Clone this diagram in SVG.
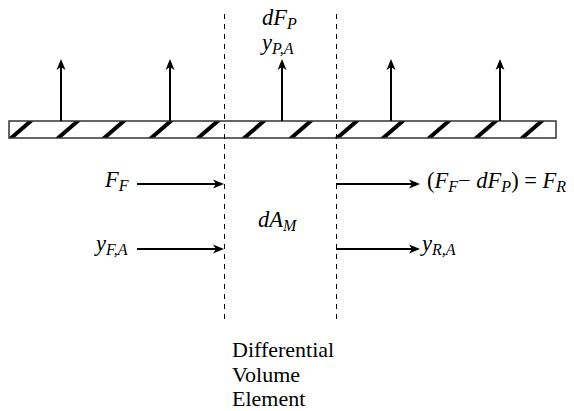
<svg xmlns="http://www.w3.org/2000/svg" width="574" height="411" viewBox="0 0 574 411">
<style>
  .math { font-family: "Liberation Serif", "Times New Roman", serif; font-style: italic; font-size: 22.5px; fill: #000; }
  .sub { font-size: 16px; }
  .up { font-style: normal; }
  .label { font-family: "Liberation Serif", "Times New Roman", serif; font-size: 22px; fill: #000; }
  .arrow { stroke: #000; stroke-width: 2; fill: none; marker-end: url(#ah); }
  .dash { stroke: #000; stroke-width: 1; stroke-dasharray: 5 5; fill: none; }
  .hatch { stroke: #000; stroke-width: 4; }
</style>
<defs>
  <marker id="ah" viewBox="-1 -6 14 12" markerWidth="14" markerHeight="12" refX="3" refY="0" orient="auto" markerUnits="userSpaceOnUse">
    <path d="M0,-4.5 L11,0 L0,4.5 L3,0 Z" fill="#000"/>
  </marker>
  <clipPath id="barclip"><rect x="9" y="121" width="547" height="17"/></clipPath>
</defs>
<rect width="574" height="411" fill="#fff"/>

<g id="bar">
  <g clip-path="url(#barclip)">
    <line class="hatch" x1="10" y1="139" x2="32" y2="120"/>
    <line class="hatch" x1="57" y1="139" x2="79" y2="120"/>
    <line class="hatch" x1="103" y1="139" x2="125" y2="120"/>
    <line class="hatch" x1="150" y1="139" x2="172" y2="120"/>
    <line class="hatch" x1="197" y1="139" x2="219" y2="120"/>
    <line class="hatch" x1="243" y1="139" x2="265" y2="120"/>
    <line class="hatch" x1="290" y1="139" x2="312" y2="120"/>
    <line class="hatch" x1="336" y1="139" x2="358" y2="120"/>
    <line class="hatch" x1="382" y1="139" x2="404" y2="120"/>
    <line class="hatch" x1="428" y1="139" x2="450" y2="120"/>
    <line class="hatch" x1="475" y1="139" x2="497" y2="120"/>
    <line class="hatch" x1="521" y1="139" x2="543" y2="120"/>
  </g>
  <rect x="9" y="121" width="547" height="17" fill="none" stroke="#333" stroke-width="1.5"/>
</g>

<g id="volume-element">
  <line class="dash" x1="224.5" y1="14" x2="224.5" y2="322"/>
  <line class="dash" x1="336.5" y1="14" x2="336.5" y2="322"/>
</g>

<g id="connectors">
  <line class="arrow" x1="61" y1="121" x2="61" y2="67"/>
  <line class="arrow" x1="170" y1="121" x2="170" y2="67"/>
  <line class="arrow" x1="282" y1="121" x2="282" y2="67"/>
  <line class="arrow" x1="391" y1="121" x2="391" y2="67"/>
  <line class="arrow" x1="500" y1="121" x2="500" y2="67"/>
  <line class="arrow" x1="137" y1="184" x2="216" y2="184"/>
  <line class="arrow" x1="137" y1="249" x2="216" y2="249"/>
  <line class="arrow" x1="336" y1="184" x2="412" y2="184"/>
  <line class="arrow" x1="336" y1="249" x2="412" y2="249"/>
</g>

<g id="label-dFP">
  <text class="math" x="262" y="25">dF<tspan class="sub" dy="4">P</tspan></text>
  <text class="math" x="262" y="50">y<tspan class="sub" dy="4">P,A</tspan></text>
</g>
<g id="label-FF">
  <text class="math" x="105" y="187">F<tspan class="sub" dy="4">F</tspan></text>
</g>
<g id="label-yFA">
  <text class="math" x="96" y="251">y<tspan class="sub" dy="4">F,A</tspan></text>
</g>
<g id="label-dAM">
  <text class="math" x="258" y="227">dA<tspan class="sub" dy="4">M</tspan></text>
</g>
<g id="label-FR">
  <text class="math" x="427" y="188"><tspan class="up">(</tspan>F<tspan class="sub" dy="4">F</tspan><tspan class="up" dy="-4">− </tspan>dF<tspan class="sub" dy="4">P</tspan><tspan class="up" dy="-4">) = </tspan>F<tspan class="sub" dy="4">R</tspan></text>
</g>
<g id="label-yRA">
  <text class="math" x="422" y="251">y<tspan class="sub" dy="4">R,A</tspan></text>
</g>
<g id="label-dve">
  <text class="label" x="232" y="357">Differential</text>
  <text class="label" x="232" y="382">Volume</text>
  <text class="label" x="232" y="406">Element</text>
</g>
</svg>
